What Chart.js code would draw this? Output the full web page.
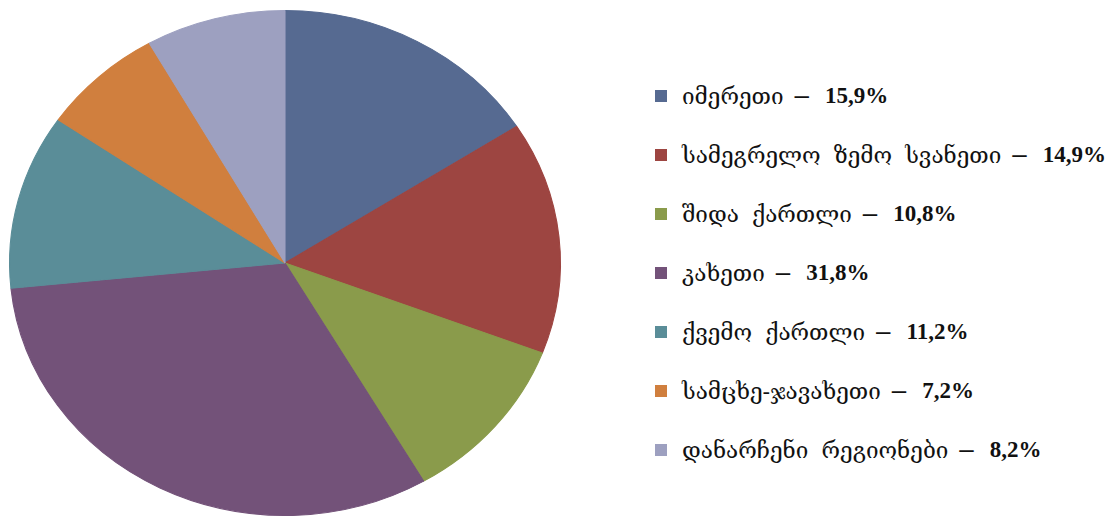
<!DOCTYPE html>
<html>
<head>
<meta charset="utf-8">
<script src="https://cdn.jsdelivr.net/npm/chart.js@4"></script>
<style>
  html, body { margin: 0; padding: 0; background: #fff; }
  #wrap { position: relative; width: 1118px; height: 518px; overflow: hidden; }
  #pieChart { position: absolute; left: 0; top: 0; }
  #legend { position: absolute; left: 655px; top: 66px; list-style: none; margin: 0; padding: 0; }
  #legend li { height: 59px; display: flex; align-items: center; white-space: nowrap; color: #111; }
  #legend .box { width: 12px; height: 12px; margin: 0 15px 0 0; flex: none; }
  #legend .name { font-family: 'DejaVu Serif', serif; font-size: 22.5px; word-spacing: 6px; }
  #legend .dash { font-family: 'Liberation Sans', sans-serif; font-size: 26px; margin: 0 16px 0 11px; }
  #legend .val { font-family: 'Liberation Serif', serif; font-weight: bold; font-size: 23px; }
</style>
</head>
<body>
<div id="wrap">
  <canvas id="pieChart" width="570" height="518"></canvas>
  <ul id="legend"></ul>
</div>
<script>
const regions = ['იმერეთი', 'სამეგრელო ზემო სვანეთი', 'შიდა ქართლი', 'კახეთი', 'ქვემო ქართლი', 'სამცხე-ჯავახეთი', 'დანარჩენი რეგიონები'];
const shares = [15.9, 14.9, 10.8, 31.8, 11.2, 7.2, 8.2];
const colors = ['#566a91', '#9d4541', '#8a9b4b', '#735279', '#5a8d98', '#d07f3e', '#9da0c0'];

// the original pie is a little wider than tall, so stretch it sideways
const stretchX = 276 / 253;
const stretchPlugin = {
    id: 'stretch',
    beforeDatasetsDraw(chart) {
        const a = chart.chartArea;
        const cx = (a.left + a.right) / 2;
        const c = chart.ctx;
        c.save();
        c.translate(cx, 0);
        c.scale(stretchX, 1);
        c.translate(-cx, 0);
    },
    afterDatasetsDraw(chart) {
        chart.ctx.restore();
    }
};

new Chart(document.getElementById('pieChart').getContext('2d'), {
    type: 'pie',
    data: {
        labels: regions,
        datasets: [{
            data: shares,
            backgroundColor: colors,
            borderColor: colors,
            borderWidth: 1
        }]
    },
    options: {
        responsive: false,
        animation: false,
        layout: { padding: { left: 9, right: 9, top: 10, bottom: 2 } },
        plugins: {
            legend: { display: false },
            tooltip: { enabled: false }
        }
    },
    plugins: [stretchPlugin]
});

// legend
const ul = document.getElementById('legend');
regions.forEach((name, i) => {
    const li = document.createElement('li');
    li.innerHTML = '<span class="box" style="background:' + colors[i] + '"></span>' +
        '<span class="name">' + name + '</span>' +
        '<span class="dash">–</span>' +
        '<span class="val">' + shares[i].toFixed(1).replace('.', ',') + '%</span>';
    ul.appendChild(li);
});
</script>
</body>
</html>
